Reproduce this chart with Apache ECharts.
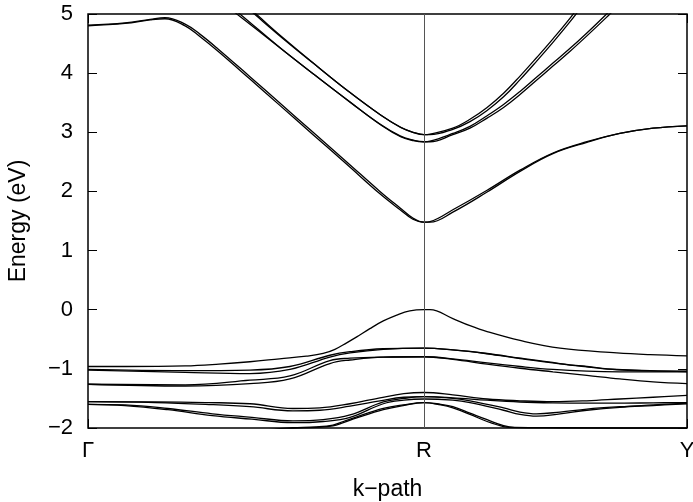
<!DOCTYPE html>
<html>
<head>
<meta charset="utf-8">
<script src="https://cdn.jsdelivr.net/npm/echarts@6/dist/echarts.min.js"></script>
<style>
  html, body { margin: 0; padding: 0; background: #fff; }
  #chart { width: 693px; height: 502px; }
</style>
</head>
<body>
<div id="chart"></div>
<script>
// k-path: Γ = 0, R = 1, Y = 1.783 (segment lengths)
const kTicks = [0, 1, 1.783]
const kLabels = ['Γ', 'R', 'Y']

// bands as [k, E] pairs
const c1a = [[0,4.81],[0.11,4.85],[0.185,4.91],[0.229,4.94],[0.289,4.83],[0.333,4.66],[0.387,4.41],[0.482,3.94],[0.571,3.495],[0.670,3.0],[0.771,2.495],[0.869,2.0],[0.929,1.72],[0.967,1.55],[1,1.48],[1.018,1.49],[1.086,1.69],[1.188,2.02],[1.286,2.36],[1.384,2.65],[1.485,2.84],[1.583,2.98],[1.682,3.07],[1.783,3.11]]
const c1b = [[0,4.80],[0.11,4.84],[0.185,4.90],[0.229,4.92],[0.289,4.80],[0.333,4.62],[0.387,4.37],[0.482,3.90],[0.571,3.455],[0.670,2.96],[0.771,2.455],[0.869,1.96],[0.929,1.69],[0.967,1.53],[1,1.48],[1.018,1.48],[1.086,1.65],[1.188,1.99],[1.286,2.34],[1.384,2.64],[1.485,2.83],[1.583,2.98],[1.682,3.07],[1.783,3.11]]
const c2a = [[0.45,5.22],[0.497,4.99],[0.571,4.63],[0.670,4.17],[0.771,3.71],[0.869,3.30],[0.929,3.09],[0.967,3.0],[1,2.96],[1.018,2.97],[1.086,3.07],[1.137,3.22],[1.188,3.42],[1.237,3.66],[1.286,3.95],[1.335,4.26],[1.384,4.58],[1.435,4.93],[1.47,5.2]]
const c2b = [[0.455,5.22],[0.502,4.99],[0.576,4.62],[0.675,4.15],[0.776,3.69],[0.874,3.28],[0.932,3.08],[0.968,3.0],[1,2.96],[1.018,2.96],[1.086,3.05],[1.137,3.18],[1.188,3.37],[1.237,3.60],[1.286,3.89],[1.335,4.20],[1.384,4.52],[1.435,4.87],[1.48,5.2]]
const c3a = [[0.40,5.19],[0.443,5.0],[0.571,4.43],[0.670,3.99],[0.771,3.55],[0.869,3.14],[0.929,2.94],[0.967,2.87],[1,2.84],[1.018,2.85],[1.086,2.98],[1.137,3.10],[1.188,3.28],[1.237,3.47],[1.286,3.69],[1.335,3.93],[1.384,4.17],[1.435,4.42],[1.485,4.68],[1.54,4.98],[1.58,5.2]]
const c3b = [[0.41,5.19],[0.452,5.0],[0.580,4.39],[0.679,3.95],[0.780,3.51],[0.875,3.11],[0.932,2.92],[0.968,2.86],[1,2.84],[1.018,2.84],[1.086,2.96],[1.137,3.07],[1.188,3.24],[1.237,3.42],[1.286,3.64],[1.335,3.88],[1.384,4.12],[1.435,4.37],[1.485,4.63],[1.55,4.98],[1.59,5.2]]

const v1 = [[0,-0.96],[0.11,-0.96],[0.289,-0.95],[0.39,-0.92],[0.482,-0.88],[0.57,-0.83],[0.65,-0.785],[0.70,-0.74],[0.735,-0.67],[0.77,-0.56],[0.80,-0.46],[0.839,-0.32],[0.879,-0.19],[0.919,-0.09],[0.958,-0.02],[1,0.0],[1.018,0.0],[1.086,-0.15],[1.137,-0.27],[1.188,-0.37],[1.286,-0.52],[1.405,-0.65],[1.574,-0.73],[1.673,-0.76],[1.783,-0.78]]
const v2a = [[0,-1.01],[0.289,-1.03],[0.482,-1.02],[0.601,-0.96],[0.720,-0.77],[0.780,-0.71],[0.879,-0.66],[1,-0.65],[1.086,-0.68],[1.188,-0.74],[1.286,-0.82],[1.405,-0.91],[1.485,-0.96],[1.574,-1.01],[1.673,-1.03],[1.783,-1.04]]
const v2b = [[0,-1.02],[0.289,-1.06],[0.482,-1.08],[0.601,-1.01],[0.720,-0.80],[0.780,-0.73],[0.879,-0.67],[1,-0.65],[1.086,-0.68],[1.188,-0.745],[1.286,-0.825],[1.405,-0.915],[1.485,-0.965],[1.574,-1.015],[1.673,-1.035],[1.783,-1.045]]
const v3a = [[0,-1.26],[0.289,-1.27],[0.482,-1.19],[0.601,-1.12],[0.720,-0.86],[0.780,-0.82],[0.879,-0.80],[1,-0.795],[1.086,-0.83],[1.188,-0.90],[1.286,-0.96],[1.384,-1.01],[1.485,-1.04],[1.583,-1.05],[1.682,-1.05],[1.783,-1.05]]
const v3b = [[0,-1.26],[0.289,-1.29],[0.482,-1.25],[0.601,-1.17],[0.720,-0.91],[0.780,-0.85],[0.879,-0.80],[1,-0.795],[1.086,-0.84],[1.188,-0.92],[1.286,-0.99],[1.384,-1.05],[1.485,-1.11],[1.583,-1.17],[1.682,-1.22],[1.783,-1.25]]

const v4a = [[0,-1.555],[0.2,-1.56],[0.35,-1.57],[0.482,-1.59],[0.61,-1.67],[0.69,-1.66],[0.78,-1.59],[0.869,-1.49],[0.94,-1.42],[1,-1.40],[1.086,-1.44],[1.188,-1.51],[1.286,-1.54],[1.384,-1.555],[1.485,-1.54],[1.583,-1.51],[1.682,-1.48],[1.783,-1.45]]
const v4b = [[0,-1.555],[0.2,-1.57],[0.35,-1.60],[0.482,-1.64],[0.61,-1.71],[0.69,-1.70],[0.78,-1.63],[0.869,-1.54],[0.94,-1.48],[1,-1.47],[1.086,-1.49],[1.188,-1.53],[1.286,-1.56],[1.384,-1.575],[1.485,-1.58],[1.583,-1.58],[1.682,-1.575],[1.783,-1.57]]
const v5a = [[0,-1.60],[0.11,-1.61],[0.238,-1.67],[0.37,-1.76],[0.488,-1.82],[0.61,-1.88],[0.70,-1.86],[0.78,-1.78],[0.879,-1.56],[0.94,-1.50],[1,-1.47],[1.086,-1.50],[1.137,-1.54],[1.237,-1.66],[1.286,-1.73],[1.335,-1.76],[1.405,-1.73],[1.485,-1.68],[1.583,-1.64],[1.682,-1.61],[1.783,-1.58]]
const v5b = [[0,-1.60],[0.11,-1.62],[0.238,-1.69],[0.37,-1.79],[0.488,-1.85],[0.61,-1.91],[0.70,-1.89],[0.78,-1.82],[0.879,-1.59],[0.94,-1.53],[1,-1.51],[1.086,-1.53],[1.137,-1.57],[1.237,-1.70],[1.286,-1.77],[1.335,-1.80],[1.405,-1.76],[1.485,-1.70],[1.583,-1.65],[1.682,-1.62],[1.783,-1.59]]
const v6a = [[0.5,-2.05],[0.571,-2.01],[0.61,-1.995],[0.68,-1.98],[0.729,-1.95],[0.76,-1.89],[0.80,-1.81],[0.879,-1.67],[0.938,-1.61],[1,-1.57],[1.05,-1.60],[1.086,-1.64],[1.137,-1.75],[1.188,-1.86],[1.237,-1.96],[1.27,-1.99],[1.40,-1.995],[1.60,-1.998],[1.783,-2.0]]
const v6b = [[0.5,-2.06],[0.571,-2.02],[0.61,-2.005],[0.68,-1.99],[0.729,-1.965],[0.76,-1.91],[0.80,-1.83],[0.879,-1.69],[0.938,-1.62],[1,-1.57],[1.05,-1.61],[1.086,-1.66],[1.137,-1.77],[1.188,-1.89],[1.237,-1.975],[1.27,-1.995],[1.40,-2.0],[1.60,-2.005],[1.783,-2.01]]

const bands = [c1a, c1b, c2a, c2b, c3a, c3b, v1, v2a, v2b, v3a, v3b, v4a, v4b, v5a, v5b, v6a, v6b]

const font = 'Liberation Sans, Arial, Helvetica, sans-serif'
const minus = (v) => (v < 0 ? '\u2212' + (-v) : String(v))

const chart = echarts.init(document.getElementById('chart'), null, { renderer: 'canvas' })

const series = bands.map((b) => ({
  type: 'line',
  data: b,
  smooth: 0.4,
  showSymbol: false,
  clip: true,
  silent: true,
  lineStyle: { color: '#000', width: 1.3 },
}))
// vertical line at R
series[0].markLine = {
  silent: true,
  symbol: 'none',
  label: { show: false },
  lineStyle: { color: '#555', width: 1, type: 'solid' },
  data: [{ xAxis: kTicks[1] }],
}

const tick = { show: true, inside: true, length: 9, lineStyle: { color: '#000' } }
const noLine = { show: false, onZero: false }

chart.setOption({
  animation: false,
  backgroundColor: '#fff',
  grid: {
    left: 88, right: 6, top: 14, bottom: 74,
    outerBoundsMode: 'none',
    show: true, borderColor: '#000', borderWidth: 1.5, backgroundColor: 'transparent',
  },
  xAxis: [
    {
      type: 'value',
      min: kTicks[0],
      max: kTicks[2],
      name: 'k\u2212path',
      nameLocation: 'middle',
      nameGap: 50,
      nameTextStyle: { fontFamily: font, fontSize: 23, color: '#000' },
      axisLine: noLine,
      splitLine: { show: false },
      axisTick: { ...tick, customValues: kTicks },
      axisLabel: {
        customValues: kTicks,
        margin: 12,
        fontFamily: font,
        fontSize: 22,
        color: '#000',
        formatter: (v) => kLabels[kTicks.indexOf(v)] || '',
      },
    },
    {
      type: 'value',
      position: 'top',
      min: kTicks[0],
      max: kTicks[2],
      axisLine: noLine,
      splitLine: { show: false },
      axisLabel: { show: false },
      axisTick: { ...tick, customValues: kTicks },
    },
  ],
  yAxis: [
    {
      type: 'value',
      min: -2,
      max: 5,
      interval: 1,
      name: 'Energy (eV)',
      nameLocation: 'middle',
      nameGap: 58,
      nameTextStyle: { fontFamily: font, fontSize: 23, color: '#000' },
      axisLine: noLine,
      splitLine: { show: false },
      axisTick: tick,
      axisLabel: { margin: 15, fontFamily: font, fontSize: 22, color: '#000', formatter: minus },
    },
    {
      type: 'value',
      position: 'right',
      min: -2,
      max: 5,
      interval: 1,
      axisLine: noLine,
      splitLine: { show: false },
      axisLabel: { show: false },
      axisTick: tick,
    },
  ],
  series,
})
</script>
</body>
</html>
